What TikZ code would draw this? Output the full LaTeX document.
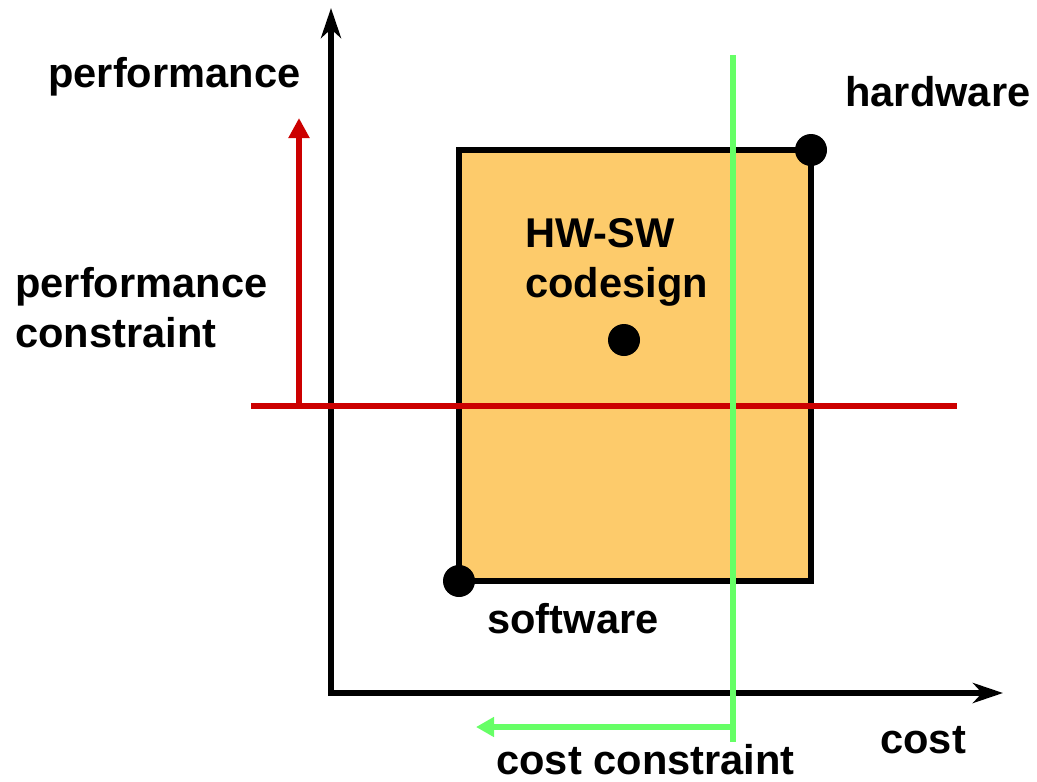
\documentclass[tikz,border=0pt]{standalone}
\usepackage{fontspec}
\setmainfont{Liberation Sans}
\usetikzlibrary{arrows.meta}

\begin{document}
\begin{tikzpicture}[x=0.5pt, y=-0.5pt, line cap=butt, line join=miter]
  % styles
  \tikzset{
    axis/.style={black, line width=2.8pt},
    box/.style={draw=black, fill=codefill, line width=2.8pt},
    perfline/.style={perfred, line width=2.6pt},
    costline/.style={costgreen, line width=2.6pt},
    dot/.style={fill=black},
    lab/.style={anchor=base west, inner sep=0pt, align=left,
      font=\fontsize{20.8}{25}\selectfont\bfseries}
  }
  \definecolor{codefill}{HTML}{FDCB6B}
  \definecolor{perfred}{HTML}{CC0000}
  \definecolor{costgreen}{HTML}{66FF66}

  \useasboundingbox (0,0) rectangle (1037,781);

  % ----- axes -----
  \coordinate (O) at (331,693);
  \coordinate (ytip) at (331,8);
  \coordinate (xtip) at (1003,693);
  \draw[axis, {Stealth[length=15pt,width=10pt,inset=4.5pt]}-{Stealth[length=15pt,width=10pt,inset=4.5pt]}]
    (ytip) -- (O) -- (xtip);

  % ----- design space -----
  \coordinate (sw) at (459,581);
  \coordinate (ne) at (811,150);
  \coordinate (mid) at (624,340);
  \draw[box] (sw) rectangle (ne);

  % performance constraint
  \coordinate (pl) at (251,406);
  \coordinate (pr) at (957,406);
  \coordinate (pa) at (299,406);
  \coordinate (ptip) at (299,118);
  \draw[perfline] (pl) -- (pr);
  \draw[perfline, -{Triangle[length=10pt,width=10pt]}] (pa) -- (ptip);

  % cost constraint
  \coordinate (ct) at (733,55);
  \coordinate (cb) at (733,742);
  \coordinate (ca) at (733,727);
  \coordinate (ctip) at (476,727);
  \draw[costline] (ct) -- (cb);
  \draw[costline, -{Triangle[length=9pt,width=9.5pt]}] (ca) -- (ctip);

  % points
  \fill[dot] (sw) circle[radius=8pt];
  \fill[dot] (ne) circle[radius=8pt];
  \fill[dot] (mid) circle[radius=8pt];

  % labels (two-line labels sit on their last baseline)
  \node[lab] (perf) at (48,88) {performance};
  \node[lab] (cost) at (880,753) {cost};
  \node[lab] (hw) at (845,106) {hardware};
  \node[lab] (sw-lab) at (487,633) {software};
  \node[lab] (codesign) at (525,297) {HW-SW\\codesign};
  \node[lab] (perfc) at (15,347) {performance\\constraint};
  \node[lab] (costc) at (496,774) {cost constraint};
\end{tikzpicture}
\end{document}
